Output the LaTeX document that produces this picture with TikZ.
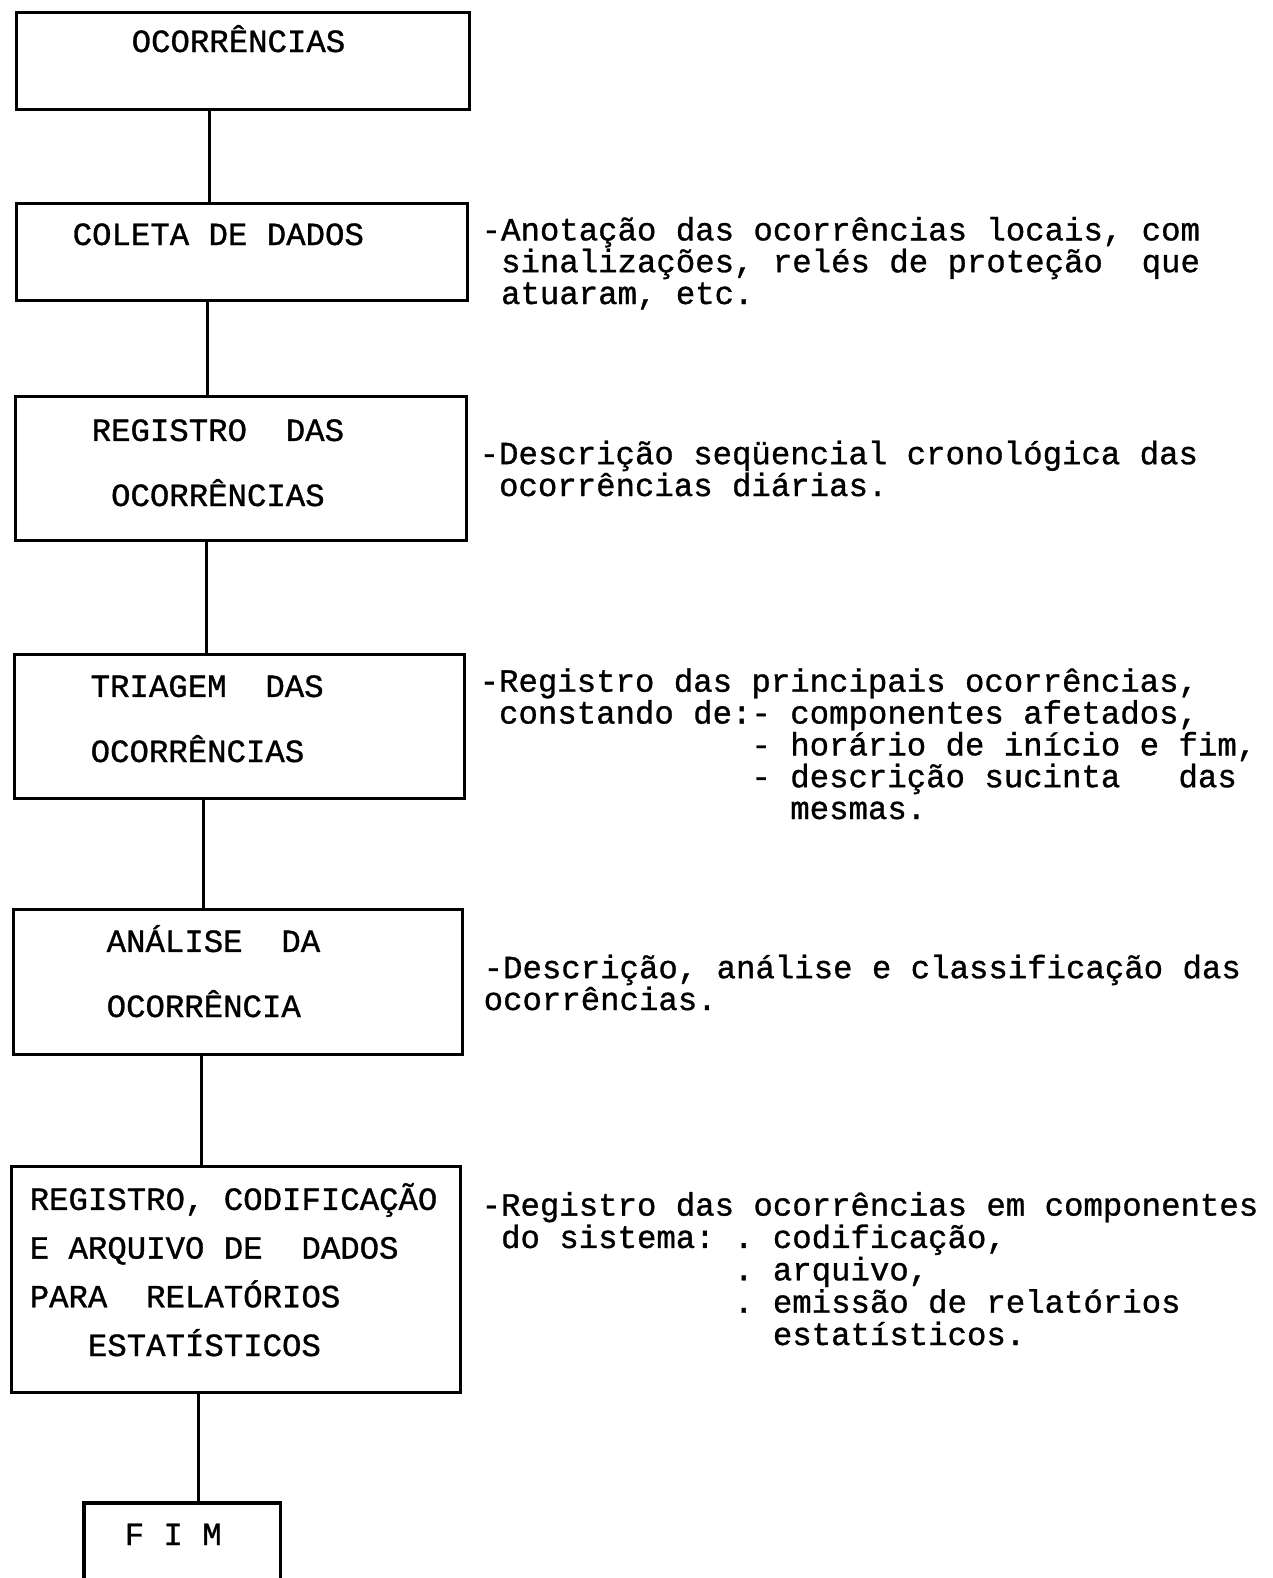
\documentclass[tikz,border=0pt]{standalone}
\usepackage{fontspec}
\setmonofont[FakeBold=1]{Liberation Mono}
\newcommand\pad[1]{\hspace*{\fpeval{0.6*#1}em}}
\tikzset{
	etapa/.style={draw, line width=0.9pt, inner sep=0pt, anchor=north west},
	rotulo/.style={font=\ttfamily\fontsize{9.2}{18.5}\selectfont, inner sep=0pt, anchor=base west, align=left},
	nota/.style={font=\ttfamily\fontsize{9.2}{9.05}\selectfont, inner sep=0pt, anchor=base west, align=left},
	liga/.style={line width=0.75pt},
}

\begin{document}
\begin{tikzpicture}[x=0.01cm, y=-0.01cm]
		%%%%% START %%%%%
		\useasboundingbox (0,0) rectangle (1272,1578);
		
		% caixas
		\node[etapa, minimum width=4.53cm, minimum height=0.97cm] (ocor) at (15,11) {};
		\node[etapa, minimum width=4.51cm, minimum height=0.97cm] (coleta) at (15,202) {};
		\node[etapa, minimum width=4.51cm, minimum height=1.44cm] (registro) at (14,395) {};
		\node[etapa, minimum width=4.50cm, minimum height=1.44cm] (triagem) at (13,653) {};
		\node[etapa, minimum width=4.49cm, minimum height=1.45cm] (analise) at (12,908) {};
		\node[etapa, minimum width=4.49cm, minimum height=2.26cm] (arquivo) at (10,1165) {};
		\node[inner sep=0pt, anchor=north west, minimum width=1.95cm, minimum height=0.76cm] (fim) at (84,1503) {};
		\draw[line width=0.9pt] (fim.south west) |- (fim.north east) -- (fim.south east);
		
		% textos das caixas (posicao = linha de base da ultima linha)
		\node[rotulo] (t-ocor) at (131,52) {OCORRÊNCIAS};
		\node[rotulo] (t-coleta) at (72,245) {COLETA DE DADOS};
		\node[rotulo] (t-registro) at (91,506) {REGISTRO~ DAS\\\pad{1}OCORRÊNCIAS};
		\node[rotulo] (t-triagem) at (90,762) {TRIAGEM~ DAS\\OCORRÊNCIAS};
		\node[rotulo] (t-analise) at (106,1017) {ANÁLISE~ DA\\OCORRÊNCIA};
		\node[rotulo, font=\ttfamily\fontsize{9.2}{13.85}\selectfont] (t-arquivo) at (29,1356)
			{REGISTRO, CODIFICAÇÃO\\E ARQUIVO DE~ DADOS\\PARA~ RELATÓRIOS\\\pad{3}ESTATÍSTICOS};
		\node[rotulo] (t-fim) at (124,1545) {F I M};
		
		% ligacoes
		\draw[liga] ([xshift=-0.34cm]ocor.south) coordinate (l1) -- (l1 |- coleta.north);
		\draw[liga] ([xshift=-0.35cm]coleta.south) coordinate (l2) -- (l2 |- registro.north);
		\draw[liga] ([xshift=-0.35cm]registro.south) coordinate (l3) -- (l3 |- triagem.north);
		\draw[liga] ([xshift=-0.36cm]triagem.south) coordinate (l4) -- (l4 |- analise.north);
		\draw[liga] ([xshift=-0.366cm]analise.south) coordinate (l5) -- (l5 |- arquivo.north);
		\draw[liga] ([xshift=-0.375cm]arquivo.south) coordinate (l6) -- (l6 |- fim.north);
		
		% notas
		\node[nota] (n-coleta) at (481,304) {-Anotação das ocorrências locais, com\\
			\pad{1}sinalizações, relés de proteção~ que\\
			\pad{1}atuaram, etc.};
		\node[nota] (n-registro) at (479,496) {-Descrição seqüencial cronológica das\\
			\pad{1}ocorrências diárias.};
		\node[nota] (n-triagem) at (479,819) {-Registro das principais ocorrências,\\
			\pad{1}constando de:- componentes afetados,\\
			\pad{14}- horário de início e fim,\\
			\pad{14}- descrição sucinta~~ das\\
			\pad{16}mesmas.};
		\node[nota] (n-analise) at (483,1010) {-Descrição, análise e classificação das\\
			ocorrências.};
		\node[nota, font=\ttfamily\fontsize{9.2}{9.2}\selectfont] (n-arquivo) at (481,1345)
			{-Registro das ocorrências em componentes\\
			\pad{1}do sistema: . codificação,\\
			\pad{13}. arquivo,\\
			\pad{13}. emissão de relatórios\\
			\pad{15}estatísticos.};
		
		%%%%% END %%%%%
	\end{tikzpicture}
\end{document}
